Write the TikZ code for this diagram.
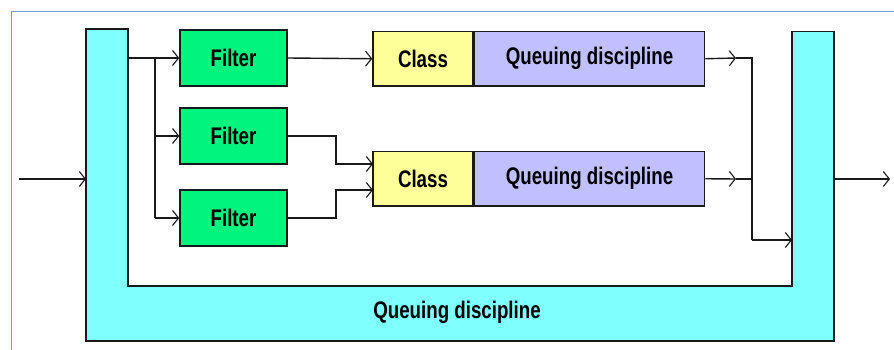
\documentclass[tikz,border=0pt]{standalone}
\usepackage{fontspec}
\setmainfont{Liberation Sans}[FakeStretch=0.78]
\usetikzlibrary{arrows.meta}
\definecolor{frameblue}{HTML}{6F9AD6}
\definecolor{qcyan}{HTML}{80FFFF}
\definecolor{fgreen}{HTML}{00F57F}
\definecolor{cyellow}{HTML}{FFFF99}
\definecolor{qlav}{HTML}{C0C0FF}
\definecolor{ink}{HTML}{1A1A1A}
\tikzset{
  lbl/.style={font=\fontsize{24}{28}\selectfont\bfseries, text=black},
  box/.style={draw=ink, line width=1.5pt, rectangle, inner sep=0pt, lbl},
  filterbox/.style={box, fill=fgreen, minimum width=107pt, minimum height=56pt},
  classbox/.style={box, fill=cyellow, minimum width=100pt, minimum height=54.5pt},
  qdbox/.style={box, fill=qlav, minimum width=230pt, minimum height=54.5pt},
  wire/.style={draw=ink, line width=1.4pt},
  flow/.style={wire, -{Straight Barb[length=6pt,width=15pt,line width=1.1pt]}},
}
\begin{document}
\begin{tikzpicture}[x=1pt,y=-1pt]
\useasboundingbox (0,0) rectangle (894,350);
\fill[white] (0,0) rectangle (894,350);
% outer frame
\draw[frameblue, line width=1.5pt] (11.5,350) -- (11.5,11.5) -- (894,11.5);

% U-shaped outer queuing discipline
\draw[ink, line width=1.5pt, fill=qcyan]
  (86,29) -- (128,29) -- (128,286) -- (792,286) -- (792,31.5)
  -- (834,31.5) -- (834,341) -- (86,341) -- cycle;
\node[lbl] (outerqd) at (457,312) {Queuing discipline};
\coordinate (uin) at (86,179);
\coordinate (uout) at (834,179);
\coordinate (uret) at (792,240);

% filters
\node[filterbox] (f1) at (233.5,58) {Filter};
\node[filterbox] (f2) at (233.5,136) {Filter};
\node[filterbox] (f3) at (233.5,218) {Filter};

% classes with their queuing disciplines
\node[classbox] (c1) at (423,58.75) {Class};
\node[qdbox, anchor=west] (q1) at (c1.east) {Queuing discipline};
\node[classbox] (c2) at (423,178.75) {Class};
\node[qdbox, anchor=west] (q2) at (c2.east) {Queuing discipline};

% input side
\coordinate (src) at (19,179);
\draw[flow] (src) -- (uin);
\coordinate (split) at (128,58);
\coordinate (bus) at (155,58);
\draw[flow] (split) -- (f1.west);
\draw[wire] (bus) -- (155,218);
\draw[flow] (155,136) -- (f2.west);
\draw[flow] (155,218) -- (f3.west);

% filters to classes
\draw[flow] (f1.east) -- (c1.west);
\coordinate (c2a) at (373,164);
\coordinate (c2b) at (373,190);
\draw[flow] (f2.east) -| (336,164) -- (c2a);
\draw[flow] (f3.east) -| (336,190) -- (c2b);

% merge into outer discipline
\coordinate (m1) at (736,58);
\coordinate (m2) at (736,179);
\coordinate (j1) at (752,58);
\coordinate (j2) at (752,179);
\draw[flow] (q1.east) -- (m1);
\draw[flow] (q2.east) -- (m2);
\draw[wire] (m1) -- (j1) -- (752,240);
\draw[wire] (m2) -- (j2);
\draw[flow] (752,240) -- (uret);

% output
\coordinate (dst) at (890,179);
\draw[flow] (uout) -- (dst);
\end{tikzpicture}
\end{document}
